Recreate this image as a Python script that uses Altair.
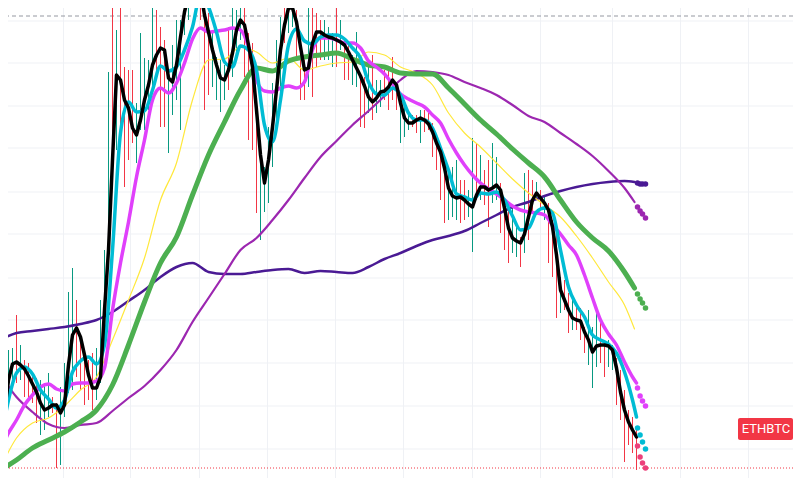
import altair as alt
import pandas as pd

# ---------------------------------------------------------------------------
# Look
# ---------------------------------------------------------------------------

THEME = {
    "up": "#089981",
    "down": "#f23645",
    "grid": "#eff1f5",
    "high_line": "#9598a1",
    "close": "#000000",
    "close_proj": "#ec407a",
    "cyan": "#00bcd4",
    "magenta": "#e040fb",
    "yellow": "#ffe83b",
    "green": "#4caf50",
    "violet": "#9c27b0",
    "indigo": "#4a1a94",
    "font": "Roboto",
}

# half a pixel of offset keeps the 1px wicks crisp
X_DOMAIN = [1.875, 198.125]
Y_DOMAIN = [19, 489]

# ---------------------------------------------------------------------------
# Data (price index, one candle per bar)
# ---------------------------------------------------------------------------

CLOSE = [
    65, 85, 117, 133, 135, 132, 128, 121, 113, 105,
    94, 87, 89, 92, 92, 84, 92, 132, 162, 169,
    160, 142, 122, 109, 109, 120, 187, 247, 337, 422,
    417, 397, 389, 369, 362, 377, 397, 412, 432, 442,
    449, 447, 419, 415, 432, 460, 485, 502, 517, 522,
    507, 482, 465, 447, 432, 419, 417, 427, 444, 467,
    477, 472, 452, 430, 387, 342, 314, 337, 370, 407,
    447, 472, 489, 489, 475, 450, 427, 429, 454, 465,
    465, 462, 460, 459, 457, 455, 452, 445, 437, 429,
    421, 411, 400, 395, 399, 405, 406, 410, 417, 412,
    394, 379, 374, 374, 377, 379, 377, 373, 365, 354,
    345, 329, 309, 301, 299, 300, 297, 293, 290, 302,
    310, 310, 307, 309, 312, 307, 289, 269, 259, 256,
    254, 263, 280, 297, 304, 299, 294, 287, 270, 242,
    207, 197, 187, 179, 177, 176, 165, 157, 145, 151,
    152, 152, 151, 147, 129, 105, 87, 75, 67, 60,
]

HIGH = [
    132, 159, 147, 149, 182, 152, 137, 134, 124, 119,
    117, 112, 124, 100, 94, 110, 134, 205, 229, 197,
    162, 147, 137, 144, 149, 197, 247, 425, 517, 467,
    497, 430, 427, 427, 394, 464, 439, 437, 497, 487,
    470, 457, 420, 452, 477, 477, 512, 527, 532, 537,
    522, 497, 484, 464, 440, 437, 432, 470, 494, 487,
    494, 494, 464, 454, 397, 350, 330, 370, 414, 457,
    480, 507, 517, 512, 487, 454, 437, 497, 494, 484,
    477, 477, 470, 464, 497, 477, 457, 452, 442, 465,
    422, 420, 430, 442, 417, 417, 427, 430, 440, 414,
    397, 397, 384, 382, 382, 387, 387, 384, 374, 360,
    347, 340, 330, 330, 337, 317, 317, 307, 359, 354,
    342, 327, 337, 354, 340, 314, 292, 294, 290, 270,
    260, 324, 327, 317, 315, 307, 302, 294, 277, 267,
    220, 217, 204, 200, 192, 189, 170, 187, 170, 184,
    177, 157, 157, 152, 139, 127, 107, 87, 80, 67,
]

LOW = [
    27, 77, 102, 112, 114, 117, 100, 97, 94, 74,
    62, 67, 80, 84, 29, 32, 80, 104, 107, 120,
    107, 92, 97, 87, 97, 114, 147, 232, 322, 347,
    364, 310, 337, 354, 334, 367, 367, 387, 407, 417,
    370, 370, 344, 382, 397, 367, 462, 477, 492, 497,
    477, 387, 402, 410, 397, 385, 397, 407, 420, 442,
    457, 420, 357, 347, 284, 257, 285, 294, 330, 370,
    397, 454, 464, 470, 437, 397, 397, 410, 400, 430,
    437, 437, 437, 430, 430, 447, 417, 417, 412, 410,
    370, 369, 384, 377, 384, 390, 397, 387, 397, 387,
    354, 360, 367, 370, 364, 354, 365, 367, 340, 327,
    297, 274, 277, 280, 277, 274, 277, 280, 245, 297,
    297, 292, 270, 294, 297, 264, 247, 234, 244, 240,
    230, 244, 257, 284, 297, 287, 277, 234, 220, 179,
    184, 187, 164, 167, 167, 157, 144, 132, 109, 130,
    134, 120, 130, 127, 92, 77, 35, 52, 44, 27,
]

DIRECTION = list(
    "UUUUDUDDDD" "UUUDDUUUUD" "DDDDUUUUDU" "DDDDUUUUUD"
    "DDUUUUUUDU" "DDDUUUUDUU" "UDDDDUUUUU" "UDUUDDDUDD"
    "DUUUDUDDUU" "DDUDUUDDDD" "UUUDDUDDDD" "DDUUUDDUUD"
    "UDDUUDDDUU" "DUDDUDUDDD" "UDDUDDDUUU" "DDUUDDDDDD"
)

# moving averages, sampled every 2 bars (fast) or every 4 bars (slow)
FAST_BARS = list(range(0, 160, 2)) + [159]
SLOW_BARS = list(range(0, 160, 4)) + [158.5]

CYAN_MA = [
    54, 97, 124, 130, 123, 107, 98, 89, 97, 125,
    136, 140, 133, 152, 247, 364, 395, 385, 386, 407,
    431, 426, 430, 447, 470, 502, 490, 465, 435, 430,
    451, 447, 427, 372, 355, 397, 452, 468, 456, 453,
    460, 462, 462, 458, 449, 439, 415, 403, 402, 409,
    402, 384, 377, 377, 369, 349, 327, 303, 300, 297,
    304, 303, 305, 297, 281, 267, 269, 285, 289, 284,
    247, 210, 192, 180, 162, 157, 153, 144, 125, 97,
    80,
]

MAGENTA_MA = [
    47, 64, 77, 92, 102, 110, 113, 108, 106, 113,
    114, 114, 116, 129, 187, 234, 275, 320, 357, 397,
    409, 404, 414, 434, 458, 469, 465, 466, 467, 469,
    467, 450, 417, 406, 405, 409, 411, 409, 415, 447,
    459, 459, 457, 454, 454, 449, 436, 430, 423, 413,
    403, 398, 394, 390, 382, 374, 358, 344, 332, 322,
    314, 308, 303, 297, 291, 287, 285, 284, 282, 272,
    263, 252, 242, 222, 199, 177, 163, 152, 135, 120,
    114,
]

YELLOW_MA = [
    29, 59, 74, 79, 91, 107, 120, 157, 197, 239,
    297, 334, 397, 437, 438, 450, 445, 434, 439, 427,
    431, 434, 435, 445, 442, 430, 424, 412, 384, 364,
    350, 334, 318, 304, 292, 280, 261, 239, 215, 192,
    168,
]

GREEN_MA = [
    27, 37, 49, 57, 65, 75, 87, 112, 152, 195,
    234, 260, 302, 342, 375, 407, 429, 426, 436, 440,
    442, 444, 438, 432, 430, 424, 423, 423, 409, 393,
    377, 363, 348, 334, 320, 297, 275, 259, 246, 225,
    209,
]

VIOLET_MA = [
    122, 100, 85, 73, 69, 72, 74, 86, 99, 111,
    127, 147, 175, 199, 223, 247, 259, 277, 297, 319,
    340, 356, 372, 386, 401, 417, 426, 425, 422, 415,
    409, 402, 392, 381, 375, 364, 353, 341, 326, 309,
    295,
]

INDIGO_MA = [
    157, 164, 166, 168, 170, 173, 177, 185, 196, 207,
    220, 230, 234, 225, 223, 223, 225, 227, 228, 224,
    226, 225, 224, 230, 238, 244, 251, 257, 261, 266,
    274, 282, 290, 295, 301, 306, 310, 313, 315, 316,
    315,
]

# dotted projections past the last bar
PROJ_BARS = [159.25, 159.9, 160.5, 161.25]
CLOSE_PROJ = [51, 40, 34, 29]
CYAN_PROJ = [69, 62, 55, 48]
MAGENTA_PROJ = [109, 101, 96, 91]
GREEN_PROJ = [203, 198, 194, 189]
VIOLET_PROJ = [290, 286, 283, 279]
INDIGO_PROJ = [314, 313, 313, 313]

GRID_BARS = [15.75, 32.5, 49.75, 66.75, 83.75, 100.75, 118, 135, 153, 170, 187]
GRID_PRICES = [48, 91, 134, 177, 219, 263, 305, 349, 391, 434, 476]

PERIOD_HIGH = 481
LAST_PRICE = 29
LABEL_PRICE = 68
LABEL_TEXT = "ETHBTC"


# ---------------------------------------------------------------------------
# Builders
# ---------------------------------------------------------------------------

def x_enc(field="bar"):
    return alt.X(f"{field}:Q", scale=alt.Scale(domain=X_DOMAIN, nice=False, zero=False), axis=None)


def y_enc(field="price"):
    return alt.Y(f"{field}:Q", scale=alt.Scale(domain=Y_DOMAIN, nice=False, zero=False), axis=None)


def ma_line(bars, values, color, width, interpolate="monotone"):
    df = pd.DataFrame({"bar": bars, "price": values})
    return (
        alt.Chart(df)
        .mark_line(interpolate=interpolate, strokeWidth=width, color=color,
                   strokeCap="round", strokeJoin="round")
        .encode(x=x_enc(), y=y_enc())
    )


def proj_dots(values, color):
    df = pd.DataFrame({"bar": PROJ_BARS, "price": values})
    return (
        alt.Chart(df)
        .mark_circle(size=30, opacity=1, color=color)
        .encode(x=x_enc(), y=y_enc())
    )


grid_v = (
    alt.Chart(pd.DataFrame({"bar": GRID_BARS}))
    .mark_rule(color=THEME["grid"], strokeWidth=1)
    .encode(x=x_enc())
)
grid_h = (
    alt.Chart(pd.DataFrame({"price": GRID_PRICES}))
    .mark_rule(color=THEME["grid"], strokeWidth=1)
    .encode(y=y_enc())
)
high_line = (
    alt.Chart(pd.DataFrame({"price": [PERIOD_HIGH]}))
    .mark_rule(color=THEME["high_line"], strokeWidth=1, strokeDash=[4, 3])
    .encode(y=y_enc())
)

candles = pd.DataFrame({
    "bar": list(range(len(CLOSE))),
    "high": HIGH,
    "low": LOW,
    "dir": DIRECTION,
})
wicks = (
    alt.Chart(candles)
    .mark_rule(strokeWidth=1)
    .encode(
        x=x_enc(),
        y=y_enc("low"),
        y2="high:Q",
        color=alt.Color("dir:N", scale=alt.Scale(domain=["U", "D"],
                        range=[THEME["up"], THEME["down"]]), legend=None),
    )
)

last_line = (
    alt.Chart(pd.DataFrame({"price": [LAST_PRICE]}))
    .mark_rule(color=THEME["down"], strokeWidth=1, strokeDash=[1, 2])
    .encode(y=y_enc())
)

lines = [
    ma_line(SLOW_BARS, INDIGO_MA, THEME["indigo"], 2.5),
    ma_line(SLOW_BARS, VIOLET_MA, THEME["violet"], 2.2),
    ma_line(SLOW_BARS, YELLOW_MA, THEME["yellow"], 1.2),
    ma_line(SLOW_BARS, GREEN_MA, THEME["green"], 5),
    ma_line(FAST_BARS, MAGENTA_MA, THEME["magenta"], 3.5),
    ma_line(FAST_BARS, CYAN_MA, THEME["cyan"], 3.5),
    ma_line(list(range(len(CLOSE))), CLOSE, THEME["close"], 3.5, "linear"),
]

dots = [
    proj_dots(INDIGO_PROJ, THEME["indigo"]),
    proj_dots(VIOLET_PROJ, THEME["violet"]),
    proj_dots(GREEN_PROJ, THEME["green"]),
    proj_dots(MAGENTA_PROJ, THEME["magenta"]),
    proj_dots(CYAN_PROJ, THEME["cyan"]),
    proj_dots(CLOSE_PROJ, THEME["close_proj"]),
]

label_df = pd.DataFrame({
    "price": [LABEL_PRICE],
    "top": [LABEL_PRICE + 11],
    "bottom": [LABEL_PRICE - 11],
    "text": [LABEL_TEXT],
})
label_box = (
    alt.Chart(label_df)
    .mark_rect(color=THEME["down"], cornerRadius=2)
    .encode(x=alt.value(730), x2=alt.value(785), y=y_enc("top"), y2="bottom:Q")
)
label_text = (
    alt.Chart(label_df)
    .mark_text(color="#ffffff", font=THEME["font"], fontSize=13, align="center", baseline="middle")
    .encode(x=alt.value(758), y=y_enc(), text="text:N")
)

chart = (
    alt.layer(grid_v, grid_h, high_line, wicks, *lines, last_line, *dots, label_box, label_text)
    .properties(width=785, height=470, autosize=alt.AutoSizeParams(type="none"), padding=0,
                background="#ffffff")
    .configure_view(strokeWidth=0)
)

chart.save("out.html", embed_options={"renderer": "svg", "actions": False})
